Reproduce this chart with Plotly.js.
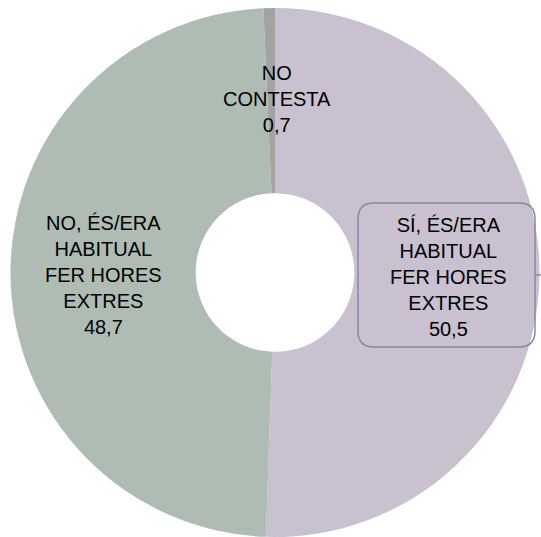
<!DOCTYPE html>
<html>
<head>
<meta charset="utf-8">
<script src="https://cdn.plot.ly/plotly-3.0.1.min.js"></script>
<style>
  html, body { margin: 0; padding: 0; background: #fff; }
  #grafica { width: 541px; height: 537px; }
</style>
</head>
<body>
<div id="grafica"></div>
<script>
var etiquetes = ['SÍ, ÉS/ERA HABITUAL FER HORES EXTRES', 'NO, ÉS/ERA HABITUAL FER HORES EXTRES', 'NO CONTESTA'];
var textEtiquetes = ['SÍ, ÉS/ERA<br>HABITUAL<br>FER HORES<br>EXTRES', 'NO, ÉS/ERA<br>HABITUAL<br>FER HORES<br>EXTRES', 'NO<br>CONTESTA'];
var valors = [50.5, 48.7, 0.7];
var colors = ['#C9C1CF', '#AEBCB4', '#A3A3A3'];

var W = 541, H = 537;
var marge = {l: 10, r: 1, t: 8, b: 0};
var pw = W - marge.l - marge.r, ph = H - marge.t - marge.b;
function px(x) { return (x - marge.l) / pw; }
function py(y) { return 1 - (y - marge.t) / ph; }

function fmt(v) { return v.toFixed(1).replace('.', ','); }

// posicions de les etiquetes (en píxels de la imatge)
var posEtiquetes = [[448, 277], [103, 275], [277, 99]];

var anotacions = valors.map(function (v, i) {
  return {
    text: textEtiquetes[i] + '<br>' + fmt(v),
    x: px(posEtiquetes[i][0]), y: py(posEtiquetes[i][1]),
    xref: 'paper', yref: 'paper',
    xanchor: 'center', yanchor: 'middle',
    showarrow: false,
    font: {family: 'Liberation Sans, Arial, sans-serif', size: 20, color: '#000'}
  };
});

// caixa arrodonida de l'etiqueta del SÍ
var bx0 = 358, bx1 = 535, by0 = 203, by1 = 347, rr = 16;
function P(x, y) { return px(x) + ',' + py(y); }
var cami = 'M' + P(bx0 + rr, by0) + ' L' + P(bx1 - rr, by0) +
  ' Q' + P(bx1, by0) + ' ' + P(bx1, by0 + rr) +
  ' L' + P(bx1, by1 - rr) + ' Q' + P(bx1, by1) + ' ' + P(bx1 - rr, by1) +
  ' L' + P(bx0 + rr, by1) + ' Q' + P(bx0, by1) + ' ' + P(bx0, by1 - rr) +
  ' L' + P(bx0, by0 + rr) + ' Q' + P(bx0, by0) + ' ' + P(bx0 + rr, by0) + ' Z';

var dades = [{
  type: 'pie',
  labels: etiquetes,
  values: valors,
  hole: 0.3,
  sort: false,
  direction: 'clockwise',
  rotation: 0,
  textinfo: 'none',
  marker: {colors: colors, line: {width: 0}},
  showlegend: false
}];

var layout = {
  width: W,
  height: H,
  margin: marge,
  paper_bgcolor: '#fff',
  showlegend: false,
  annotations: anotacions,
  shapes: [
    {type: 'path', path: cami, xref: 'paper', yref: 'paper',
     line: {color: '#8F86A3', width: 1.5}},
    {type: 'line', xref: 'paper', yref: 'paper',
     x0: px(bx1), x1: px(541), y0: py(275), y1: py(275),
     line: {color: '#8F86A3', width: 1.5}}
  ]
};

Plotly.newPlot('grafica', dades, layout, {displayModeBar: false, staticPlot: true});
</script>
</body>
</html>
